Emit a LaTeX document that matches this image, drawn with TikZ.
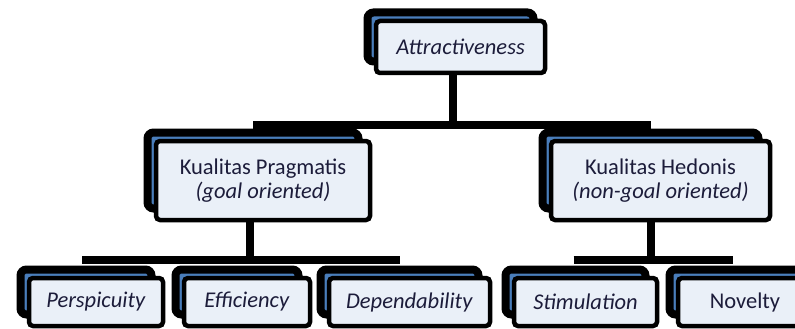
\documentclass[tikz,border=0pt]{standalone}
\usepackage{fontspec}
\setmainfont{Carlito}
\usetikzlibrary{backgrounds}
\definecolor{frontfill}{HTML}{EAF0F8}
\definecolor{backblue}{HTML}{4A7EBB}
\definecolor{txt}{HTML}{1C1C3A}
\tikzset{
  backbox/.style={draw=black, line width=8pt, fill=backblue, rounded corners=6pt, inner sep=0pt},
  frontbox/.style={draw=black, line width=4.5pt, fill=frontfill, rounded corners=4pt, inner sep=0pt, text=txt, align=center, font=\fontsize{22.5}{24}\selectfont},
  conn/.style={draw=black, line width=8pt}
}
\newcommand{\stackbox}[6]{%
  % #1 name, #2 x1, #3 y1, #4 x2, #5 y2, #6 text
  \node[backbox, minimum width={#4-#2-3}, minimum height={#5-#3-3}] (#1-b) at ({(#2+#4)/2-10},{(#3+#5)/2-10}) {};
  \node[frontbox, minimum width={#4-#2}, minimum height={#5-#3}] (#1) at ({(#2+#4)/2},{(#3+#5)/2}) {#6};
}
\begin{document}
\begin{tikzpicture}[x=1pt,y=-1pt]
\useasboundingbox (0,0) rectangle (795,329);
\stackbox{attr}{376}{21}{545}{73}{\textit{Attractiveness}}
\stackbox{prag}{156}{141}{370}{220}{Kualitas Pragmatis\\\textit{(goal oriented)}}
\stackbox{hed}{551}{141}{770}{220}{Kualitas Hedonis\\\textit{(non-goal oriented)}}
\stackbox{persp}{29}{278}{163}{326}{\textit{Perspicuity}}
\stackbox{eff}{184}{278}{310}{326}{\textit{Efficiency}}
\stackbox{dep}{329}{278}{490}{326}{\textit{Dependability}}
\stackbox{stim}{514}{278}{657}{326}{\textit{Stimulation}}
\stackbox{nov}{678}{278}{812}{326}{Novelty}
\begin{scope}[on background layer]
  \coordinate (topbarL) at ([yshift=3.5pt]prag-b.north);
  \coordinate (topbarR) at ([yshift=3.5pt]hed-b.north);
  \draw[conn] ([xshift=2pt]attr-b.south) -- ([xshift=2pt]attr-b.south |- topbarL);
  \draw[conn] (topbarL) -- (topbarR);
  \coordinate (lowbarL) at ([yshift=5.5pt]persp-b.north);
  \coordinate (lowbarM) at ([yshift=5.5pt]dep-b.north);
  \coordinate (lowbarN) at ([yshift=5.5pt]stim-b.north);
  \coordinate (lowbarR) at ([yshift=5.5pt]nov-b.north);
  \draw[conn] ([xshift=-3pt]prag-b.south) -- ([xshift=-3pt]prag-b.south |- lowbarL);
  \draw[conn] (hed-b.south) -- (hed-b.south |- lowbarN);
  \draw[conn] ([xshift=-4pt]lowbarL) -- (lowbarM);
  \draw[conn] ([xshift=-2pt]lowbarN) -- ([xshift=-2pt]lowbarR);
\end{scope}
\end{tikzpicture}
\end{document}
